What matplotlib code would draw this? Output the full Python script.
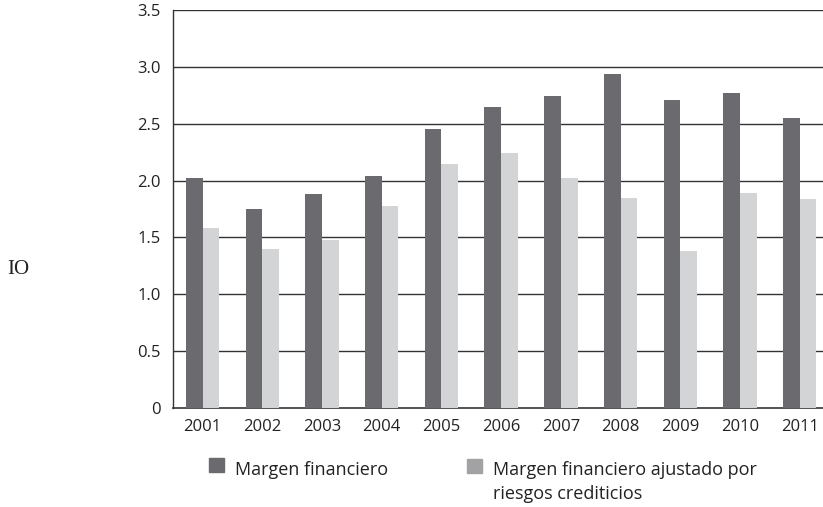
import numpy as np
import matplotlib
matplotlib.use("Agg")
import matplotlib.pyplot as plt
from matplotlib.patches import Rectangle

years = ["2001", "2002", "2003", "2004", "2005", "2006",
         "2007", "2008", "2009", "2010", "2011"]
margen = [2.02, 1.75, 1.88, 2.04, 2.45, 2.65, 2.74, 2.94, 2.71, 2.77, 2.55]
ajustado = [1.58, 1.40, 1.48, 1.78, 2.15, 2.24, 2.02, 1.85, 1.38, 1.89, 1.84]
yticks = [0, 0.5, 1.0, 1.5, 2.0, 2.5, 3.0, 3.5]
ytick_labels = ["0", "0.5", "1.0", "1.5", "2.0", "2.5", "3.0", "3.5"]

dark = "#6b6b6f"
light = "#d3d4d6"
legend_light = "#a2a2a4"
txt = "#222222"

plt.rcParams["font.family"] = ["Open Sans", "DejaVu Sans"]

fig = plt.figure(figsize=(8.23, 5.07), dpi=100)
ax = fig.add_axes([0.2099, 0.1953, 0.7901, 0.7850])

x = np.arange(len(years))
w = 0.28
ax.bar(x - w / 2, margen, width=w, color=dark, zorder=3)
ax.bar(x + w / 2, ajustado, width=w, color=light, zorder=3)

ax.set_xlim(-0.5, 10.39)
ax.set_ylim(0, 3.5)
ax.set_yticks(yticks)
ax.set_yticklabels(ytick_labels)
ax.set_xticks(x)
ax.set_xticklabels(years)
ax.tick_params(length=0, labelsize=12, colors=txt)
ax.tick_params(axis="y", pad=8.5)
ax.tick_params(axis="x", pad=8)

for v in yticks[1:]:
    ax.axhline(v, color="#333333", linewidth=1.0, zorder=1)

for side in ["top", "right"]:
    ax.spines[side].set_visible(False)
ax.spines["left"].set_color("#333333")
ax.spines["bottom"].set_color("#333333")
ax.spines["left"].set_linewidth(1.0)
ax.spines["bottom"].set_linewidth(1.2)

# legend drawn by hand to follow the layout (pixel positions)
H, W = 507, 823
fig.patches.append(Rectangle((209 / W, 1 - 472 / H), 15 / W, 14 / H,
                             transform=fig.transFigure, color=dark))
fig.text(235 / W, 1 - 475 / H, "Margen financiero", fontsize=13,
         va="baseline", color=txt)
fig.patches.append(Rectangle((467 / W, 1 - 473 / H), 15 / W, 14 / H,
                             transform=fig.transFigure, color=legend_light))
fig.text(493 / W, 1 - 475 / H, "Margen financiero ajustado por", fontsize=13,
         va="baseline", color=txt)
fig.text(493 / W, 1 - 499 / H, "riesgos crediticios", fontsize=13,
         va="baseline", color=txt)

fig.text(7 / W, 1 - 274 / H, "IO", fontsize=15, family="Liberation Serif",
         va="baseline", color=txt)

fig.savefig("out.png", dpi=100)
